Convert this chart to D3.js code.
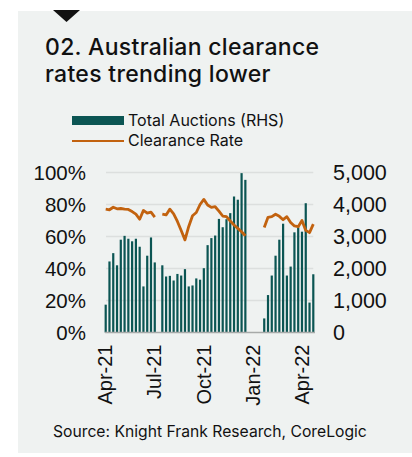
<!DOCTYPE html>
<html>
<head>
<meta charset="utf-8">
<script src="https://cdn.jsdelivr.net/npm/d3@7"></script>
<style>
  html, body { margin: 0; padding: 0; background: #fff; }
  svg { display: block; font-family: Inter, "Noto Sans", sans-serif; }
</style>
</head>
<body>
<script>
const width  = 412
const height = 457

// weekly data, first week ending 3 Apr 2021
const startWeek = new Date(2021, 3, 3)
const auctions = [870, 2220, 2480, 2100, 2900, 3020, 2930, 2850, 2930, 2680, 1440, 2400, 2970, 2190, null,
  2100, 1750, 1770, 1625, 1830, 1780, 1980, 1440, 1470, 1690, 1650, 2010, 2730, 2950, 3030, 3550, 3290,
  3540, 3730, 4250, 4150, 4980, 4770, null, null, null, null,
  440, 1170, 1780, 2400, 2900, 3400, 1780, 2060, 3130, 3280, 3150, 4040, 935, 1820]
const clearance = [77.1, 76.7, 78.3, 77.3, 77.5, 77.1, 76.9, 75.6, 74.0, 70.8, 76.3, 74.6, 75.2, 72.1, null,
  74.0, 73.5, 77.1, 74.2, 69.4, 63.7, 57.9, 66.3, 73.0, 75.0, 80.0, 83.2, 79.7, 78.2, 78.6, 75.9, 72.8,
  72.4, 69.7, 67.2, 65.1, 63.0, 60.5, null, null, null, null,
  65.6, 72.0, 72.4, 73.9, 72.6, 70.5, 72.4, 68.8, 66.6, 66.1, 70.0, 63.8, 62.4, 67.7]
const leftTicks  = [0, 20, 40, 60, 80, 100]
const rightTicks = [0, 1000, 2000, 3000, 4000, 5000]
const seriesNames = ["Total Auctions (RHS)", "Clearance Rate"]

const weeks = auctions.map((v, i) => d3.timeWeek.offset(startWeek, i))
const rows = weeks.map((d, i) => ({date: d, auctions: auctions[i], rate: clearance[i]}))

const colBar  = "#0b5553"
const colLine = "#c2620f"

const svg = d3.select("body").append("svg")
	.attr("width", width)
	.attr("height", height)

// panel
svg.append("rect")
	.attr("x", 18).attr("y", 11)
	.attr("width", width - 18).attr("height", 442)
	.attr("fill", "#eff2f1")

svg.append("path")
	.attr("d", "M53,10 L80,10 L66.5,22 Z")
	.attr("fill", "#111")

// title
const title = svg.append("g")
	.attr("font-size", 23).attr("font-weight", 500)
	.attr("letter-spacing", 0.3).attr("fill", "#111")
title.append("text").attr("x", 45).attr("y", 55).text("02. Australian clearance")
title.append("text").attr("x", 45).attr("y", 81.5).text("rates trending lower")

// legend
const legend = svg.append("g").attr("font-size", 16).attr("fill", "#111")
legend.append("rect").attr("x", 72).attr("y", 116).attr("width", 52).attr("height", 9).attr("fill", colBar)
legend.append("text").attr("x", 128).attr("y", 126).text(seriesNames[0])
legend.append("line").attr("x1", 72).attr("x2", 124).attr("y1", 141).attr("y2", 141)
	.attr("stroke", colLine).attr("stroke-width", 2)
legend.append("text").attr("x", 128).attr("y", 146).text(seriesNames[1])

// scales
const x = d3.scaleTime()
	.domain([weeks[0], weeks[weeks.length - 1]])
	.range([105.7, 313.3])
const yL = d3.scaleLinear().domain([0, 100]).range([332.5, 172.5])
const yR = d3.scaleLinear().domain([0, 5000]).range([332.5, 172.5])

// gridlines
svg.append("g")
	.selectAll("line")
	.data(leftTicks.filter(d => d > 0))
	.join("line")
	.attr("x1", 106).attr("x2", 313.3)
	.attr("y1", d => yL(d)).attr("y2", d => yL(d))
	.attr("stroke", "#dcdfde").attr("stroke-width", 1.5)

// bars
svg.append("g")
	.selectAll("rect")
	.data(rows.filter(d => d.auctions != null))
	.join("rect")
	.attr("x", d => x(d.date) - 1.1)
	.attr("width", 2.2)
	.attr("y", d => yR(d.auctions))
	.attr("height", d => yR(0) - yR(d.auctions))
	.attr("fill", colBar)

// baseline
svg.append("line")
	.attr("x1", 105).attr("x2", 315)
	.attr("y1", yL(0)).attr("y2", yL(0))
	.attr("stroke", "#a7aaa9").attr("stroke-width", 1.5)

// clearance line
const line = d3.line()
	.defined(d => d.rate != null)
	.x(d => x(d.date))
	.y(d => yL(d.rate))
svg.append("path")
	.datum(rows)
	.attr("fill", "none")
	.attr("stroke", colLine)
	.attr("stroke-width", 2.8)
	.attr("stroke-linejoin", "round")
	.attr("d", line)

// left axis
svg.append("g")
	.attr("transform", "translate(86,0)")
	.call(d3.axisLeft(yL).tickValues(leftTicks).tickSize(0).tickPadding(0).tickFormat(d => d + "%"))
	.call(g => g.select(".domain").remove())
	.call(g => g.selectAll("text").attr("font-size", 20.5).attr("fill", "#111").attr("font-family", null))

// right axis
svg.append("g")
	.attr("transform", "translate(333,0)")
	.call(d3.axisRight(yR).tickValues(rightTicks).tickSize(0).tickPadding(0).tickFormat(d3.format(",")))
	.call(g => g.select(".domain").remove())
	.call(g => g.selectAll("text").attr("font-size", 21.5).attr("fill", "#111").attr("font-family", null))

// x axis
const xTicks = d3.timeMonth.every(3).range(new Date(2021, 3, 1), new Date(2022, 3, 2))
svg.append("g")
	.attr("transform", `translate(0,${yL(0)})`)
	.call(d3.axisBottom(x).tickValues(xTicks).tickSize(0).tickFormat(d3.timeFormat("%b-%y")))
	.call(g => g.select(".domain").remove())
	.call(g => g.selectAll("text")
		.attr("font-size", 20).attr("fill", "#111").attr("font-family", null)
		.attr("text-anchor", "end")
		.attr("transform", "rotate(-90)")
		.attr("x", -12).attr("y", 0).attr("dy", "0.35em"))

// source
svg.append("text")
	.attr("x", 53).attr("y", 437)
	.attr("font-size", 15.7).attr("fill", "#111")
	.text("Source: Knight Frank Research, CoreLogic")
</script>
</body>
</html>
